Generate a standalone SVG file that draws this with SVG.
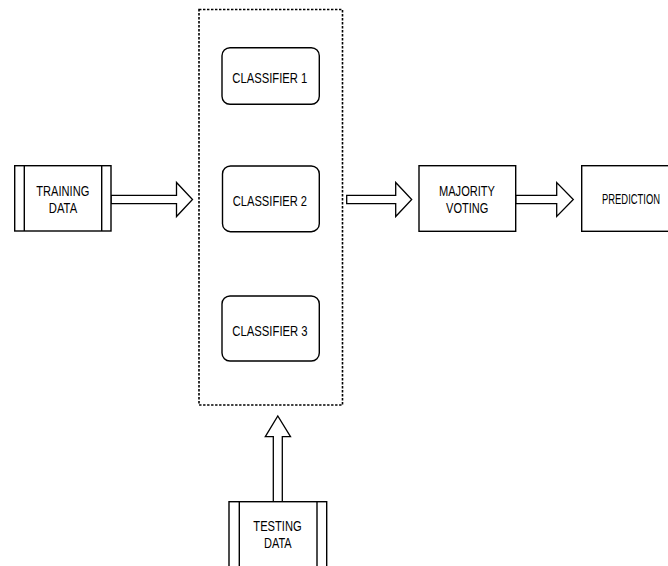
<svg xmlns="http://www.w3.org/2000/svg" width="668" height="566" viewBox="0 0 668 566">
  <style>
    .box { fill: #ffffff; stroke: #000000; stroke-width: 1.4; }
    .bar { fill: none; stroke: #000000; stroke-width: 1.4; }
    .group { fill: none; stroke: #000000; stroke-width: 1.6; stroke-dasharray: 2.4 1.6; }
    .arrow { fill: #ffffff; stroke: #000000; stroke-width: 1.3; stroke-linejoin: miter; }
    .label { font-family: "Liberation Sans", Arial, sans-serif; font-size: 14px; fill: #000000; text-anchor: middle; }
  </style>
  <rect width="668" height="566" fill="#ffffff"/>

  <!-- ensemble container -->
  <rect id="ensemble" class="group" x="199" y="9.5" width="143.5" height="395.5"/>

  <g id="connectors">
    <polygon class="arrow" points="111,195.3 176.5,195.3 176.5,182.5 192.5,199.5 176.5,216.5 176.5,203.7 111,203.7"/>
    <polygon class="arrow" points="346.7,195.3 395.7,195.3 395.7,182.5 411.7,199.5 395.7,216.5 395.7,203.7 346.7,203.7"/>
    <polygon class="arrow" points="515.7,195.3 556.7,195.3 556.7,182.5 573.3,199.5 556.7,216.5 556.7,203.7 515.7,203.7"/>
    <polygon class="arrow" points="273.3,501.7 273.3,436.7 265.3,436.7 277.8,416 290.5,436.7 282.3,436.7 282.3,501.7"/>
  </g>

  <g id="training-data">
    <rect class="box" x="14.7" y="165.7" width="96.3" height="65.3"/>
    <line class="bar" x1="24.3" y1="165.7" x2="24.3" y2="231"/>
    <line class="bar" x1="101.7" y1="165.7" x2="101.7" y2="231"/>
    <text class="label" x="62.8" y="195.7" textLength="53" lengthAdjust="spacingAndGlyphs">TRAINING</text>
    <text class="label" x="63" y="213.3" textLength="28.3" lengthAdjust="spacingAndGlyphs">DATA</text>
  </g>

  <g id="classifier-1">
    <rect class="box" x="222" y="47.7" width="97.3" height="56.6" rx="8" ry="8"/>
    <text class="label" x="269.8" y="83.3" textLength="75" lengthAdjust="spacingAndGlyphs">CLASSIFIER 1</text>
  </g>

  <g id="classifier-2">
    <rect class="box" x="222.5" y="166" width="96.8" height="65.7" rx="8" ry="8"/>
    <text class="label" x="269.9" y="206" textLength="74.3" lengthAdjust="spacingAndGlyphs">CLASSIFIER 2</text>
  </g>

  <g id="classifier-3">
    <rect class="box" x="222" y="296" width="97.3" height="65" rx="8" ry="8"/>
    <text class="label" x="270" y="336" textLength="75.3" lengthAdjust="spacingAndGlyphs">CLASSIFIER 3</text>
  </g>

  <g id="majority-voting">
    <rect class="box" x="419" y="165.7" width="96.7" height="65.6"/>
    <text class="label" x="467" y="195.7" textLength="56" lengthAdjust="spacingAndGlyphs">MAJORITY</text>
    <text class="label" x="467.2" y="213.3" textLength="42.3" lengthAdjust="spacingAndGlyphs">VOTING</text>
  </g>

  <g id="prediction">
    <rect class="box" x="581.7" y="165.7" width="97" height="65.6"/>
    <text class="label" x="631" y="204.3" textLength="58" lengthAdjust="spacingAndGlyphs">PREDICTION</text>
  </g>

  <g id="testing-data">
    <rect class="box" x="229" y="501.7" width="97.7" height="66"/>
    <line class="bar" x1="239.3" y1="501.7" x2="239.3" y2="567"/>
    <line class="bar" x1="317" y1="501.7" x2="317" y2="567"/>
    <text class="label" x="277.5" y="530.7" textLength="48.3" lengthAdjust="spacingAndGlyphs">TESTING</text>
    <text class="label" x="277.8" y="548.3" textLength="27.7" lengthAdjust="spacingAndGlyphs">DATA</text>
  </g>
</svg>
